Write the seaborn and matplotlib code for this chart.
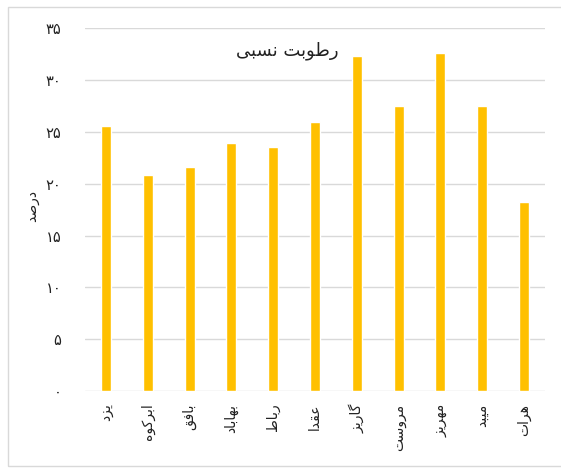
import seaborn as sns
import matplotlib.pyplot as plt
import pandas as pd
from matplotlib.patches import Rectangle
from matplotlib.ticker import FuncFormatter

# relative humidity per city (percent)
cities = ['یزد', 'ابرکوه', 'بافق', 'بهاباد', 'رباط', 'عقدا',
          'گاریز', 'مروست', 'مهریز', 'میبد', 'هرات']
humidity = [25.6, 20.8, 21.6, 23.9, 23.5, 26.0, 32.3, 27.5, 32.6, 27.5, 18.25]
y_ticks = [0, 5, 10, 15, 20, 25, 30, 35]
title = 'رطوبت نسبی'
y_label = 'درصد'

# matplotlib does no arabic shaping, so pick presentation forms by hand
FORMS = {
    'ا': ('\uFE8D', '\uFE8E', None, None),
    'ب': ('\uFE8F', '\uFE90', '\uFE91', '\uFE92'),
    'ت': ('\uFE95', '\uFE96', '\uFE97', '\uFE98'),
    'د': ('\uFEA9', '\uFEAA', None, None),
    'ر': ('\uFEAD', '\uFEAE', None, None),
    'ز': ('\uFEAF', '\uFEB0', None, None),
    'س': ('\uFEB1', '\uFEB2', '\uFEB3', '\uFEB4'),
    'ص': ('\uFEB9', '\uFEBA', '\uFEBB', '\uFEBC'),
    'ط': ('\uFEC1', '\uFEC2', '\uFEC3', '\uFEC4'),
    'ع': ('\uFEC9', '\uFECA', '\uFECB', '\uFECC'),
    'ف': ('\uFED1', '\uFED2', '\uFED3', '\uFED4'),
    'ق': ('\uFED5', '\uFED6', '\uFED7', '\uFED8'),
    'م': ('\uFEE1', '\uFEE2', '\uFEE3', '\uFEE4'),
    'ن': ('\uFEE5', '\uFEE6', '\uFEE7', '\uFEE8'),
    'ه': ('\uFEE9', '\uFEEA', '\uFEEB', '\uFEEC'),
    'و': ('\uFEED', '\uFEEE', None, None),
    'ی': ('\uFBFC', '\uFBFD', '\uFBFE', '\uFBFF'),
    'ک': ('\uFB8E', '\uFB8F', '\uFB90', '\uFB91'),
    'گ': ('\uFB92', '\uFB93', '\uFB94', '\uFB95'),
}
NO_LINK = set('ادرزو')


def shape(text):
    '''Return the visual (left to right) string for a persian text.'''
    out = []
    for i, c in enumerate(text):
        if c not in FORMS:
            out.append(c)
            continue
        prev = text[i - 1] if i > 0 else None
        nxt = text[i + 1] if i + 1 < len(text) else None
        link_prev = prev in FORMS and prev not in NO_LINK
        link_next = nxt in FORMS and c not in NO_LINK
        iso, fin, ini, med = FORMS[c]
        if link_prev and link_next:
            out.append(med)
        elif link_prev:
            out.append(fin)
        elif link_next:
            out.append(ini)
        else:
            out.append(iso)
    return ''.join(reversed(out))


def fa_digits(v, pos=None):
    return str(int(round(v))).translate(str.maketrans('0123456789', '۰۱۲۳۴۵۶۷۸۹'))


df = pd.DataFrame({'city': [shape(c) for c in cities], 'humidity': humidity})

sns.set_style('white')
plt.rcParams['font.family'] = ['DejaVu Sans']

fig = plt.figure(figsize=(5.61, 4.68), dpi=100)
ax = fig.add_axes([0.1515, 0.1645, 0.82, 0.775])

sns.barplot(data=df, x='city', y='humidity', color='#FFC000', saturation=1,
            width=0.24, ax=ax, zorder=3)

ax.set_ylim(0, 35)
ax.set_xlim(-0.5, 10.5)
ax.set_yticks(y_ticks)
ax.yaxis.set_major_formatter(FuncFormatter(fa_digits))
ax.yaxis.grid(True, color='#d9d9d9', linewidth=1, zorder=0)
ax.set_axisbelow(True)
for s in ax.spines.values():
    s.set_visible(False)
ax.tick_params(axis='y', length=0, pad=17, labelsize=10.5, labelcolor='#222222')
ax.tick_params(axis='x', length=0, pad=9, labelsize=10, labelcolor='#222222')
plt.setp(ax.get_xticklabels(), rotation=90, va='top', ha='center')

ax.set_xlabel('')
ax.set_ylabel(shape(y_label), fontsize=10, color='#222222')
ax.yaxis.set_label_coords(-0.1, 0.51)

fig.text(287 / 561, 1 - 51 / 468, shape(title), ha='center', va='center',
         fontsize=13, color='#222222')

# light frame around the chart
fig.patches.append(Rectangle((8 / 561, 2 / 468), 1.2, 1 - 9 / 468,
                             transform=fig.transFigure, fill=False,
                             edgecolor='#d9d9d9', linewidth=1))

fig.savefig('out.png', dpi=100)
